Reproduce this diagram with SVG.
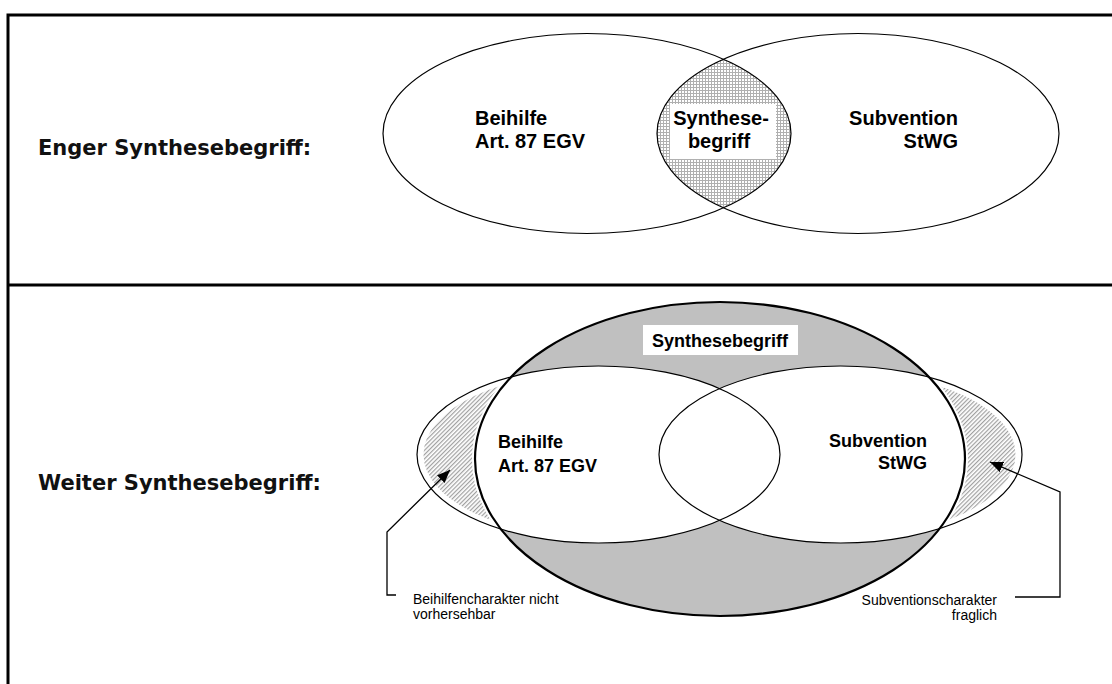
<svg xmlns="http://www.w3.org/2000/svg" width="1112" height="684" viewBox="0 0 1112 684">
<style>
.frame{stroke:#000;stroke-width:3;fill:none}
.side{font-family:"DejaVu Sans",Verdana,sans-serif;font-weight:bold;font-size:21px;fill:#111}
.lbl{font-family:"Liberation Sans",Arial,sans-serif;font-weight:bold;font-size:20px;fill:#000}
.lbl2{font-family:"Liberation Sans",Arial,sans-serif;font-weight:bold;font-size:18px;fill:#000}
.note{font-family:"Liberation Sans",Arial,sans-serif;font-size:14px;fill:#000}
.thin{fill:none;stroke:#000;stroke-width:1.2}
.thick{fill:none;stroke:#000;stroke-width:2.2}
.conn{fill:none;stroke:#000;stroke-width:1.3}
</style>
<defs>
<pattern id="grid" width="3" height="3" patternUnits="userSpaceOnUse">
<rect width="3" height="3" fill="#fff"/><rect width="3" height="1" fill="#b0b0b0"/><rect width="1" height="3" fill="#b0b0b0"/>
</pattern>
<pattern id="hatch" width="3" height="3" patternUnits="userSpaceOnUse" patternTransform="rotate(45)">
<rect width="3" height="3" fill="#fff"/><rect width="1.2" height="3" fill="#a0a0a0"/>
</pattern>
<clipPath id="clipTopLeft"><ellipse cx="587" cy="133.5" rx="204" ry="100"/></clipPath>
<mask id="maskL"><ellipse cx="598.5" cy="454.5" rx="175" ry="83" fill="#fff"/><ellipse cx="720" cy="459" rx="248" ry="161" fill="#000"/></mask>
<mask id="maskR"><ellipse cx="840.5" cy="454.5" rx="175" ry="83" fill="#fff"/><ellipse cx="720" cy="459" rx="248" ry="161" fill="#000"/></mask>
<marker id="arr" viewBox="0 0 13 11" refX="13" refY="5.5" markerWidth="13" markerHeight="11" markerUnits="userSpaceOnUse" orient="auto">
<path d="M0,0 L13,5.5 L0,11 Z" fill="#000"/>
</marker>
</defs>
<rect width="1112" height="684" fill="#fff"/>
<g id="frame">
<path class="frame" d="M8,684 L8,15 L1112,15 M8,285 L1112,285"/>
</g>
<g id="label-enger"><text class="side" x="38" y="155">Enger Synthesebegriff:</text></g>
<g id="top-venn">
<g id="top-beihilfe">
<ellipse cx="587" cy="133.5" rx="204" ry="100" fill="#fff"/>
</g>
<g id="top-subvention">
<ellipse cx="858" cy="133.5" rx="201" ry="100" fill="#fff"/>
</g>
<g id="top-synthese">
<ellipse cx="858" cy="133.5" rx="201" ry="100" fill="url(#grid)" clip-path="url(#clipTopLeft)"/>
<rect x="670" y="104" width="106" height="55" fill="#fff"/>
<text class="lbl" x="721" y="125" text-anchor="middle">Synthese-</text>
<text class="lbl" x="719" y="148" text-anchor="middle">begriff</text>
</g>
<ellipse class="thin" cx="587" cy="133.5" rx="204" ry="100"/>
<ellipse class="thin" cx="858" cy="133.5" rx="201" ry="100"/>
<text class="lbl" x="475" y="125">Beihilfe</text>
<text class="lbl" x="475" y="148">Art. 87 EGV</text>
<text class="lbl" x="958" y="125" text-anchor="end">Subvention</text>
<text class="lbl" x="958" y="148" text-anchor="end">StWG</text>
</g>
<g id="label-weiter"><text class="side" x="38" y="490">Weiter Synthesebegriff:</text></g>
<g id="bottom-venn">
<g id="bottom-synthese">
<ellipse cx="720" cy="459" rx="245" ry="157" fill="#c0c0c0"/>
</g>
<g id="bottom-beihilfe">
<ellipse cx="598.5" cy="454.5" rx="181.5" ry="88.5" fill="#fff"/>
<rect x="380" y="360" width="120" height="190" fill="url(#hatch)" mask="url(#maskL)"/>
</g>
<g id="bottom-subvention">
<ellipse cx="840.5" cy="454.5" rx="181.5" ry="88.5" fill="#fff"/>
<rect x="940" y="360" width="90" height="190" fill="url(#hatch)" mask="url(#maskR)"/>
</g>
<ellipse class="thin" cx="598.5" cy="454.5" rx="181.5" ry="88.5" stroke-width="1.3"/>
<ellipse class="thin" cx="840.5" cy="454.5" rx="181.5" ry="88.5" stroke-width="1.3"/>
<ellipse class="thick" cx="720" cy="459" rx="245" ry="157"/>
<rect x="643" y="325" width="155" height="30" fill="#fff"/>
<text class="lbl2" x="720" y="347" text-anchor="middle">Synthesebegriff</text>
<text class="lbl2" x="498" y="448">Beihilfe</text>
<text class="lbl2" x="498" y="472">Art. 87 EGV</text>
<text class="lbl2" x="927" y="447" text-anchor="end">Subvention</text>
<text class="lbl2" x="927" y="469" text-anchor="end">StWG</text>
</g>
<g id="connectors">
<path class="conn" d="M396,595 L387,595 L387,532 L450,470" marker-end="url(#arr)"/>
<path class="conn" d="M1015,597 L1060,597 L1060,492 L990,462" marker-end="url(#arr)"/>
</g>
<g id="notes">
<text class="note" x="413" y="604">Beihilfencharakter nicht</text>
<text class="note" x="413" y="619">vorhersehbar</text>
<text class="note" x="997" y="605" text-anchor="end">Subventionscharakter</text>
<text class="note" x="997" y="620" text-anchor="end">fraglich</text>
</g>
</svg>
